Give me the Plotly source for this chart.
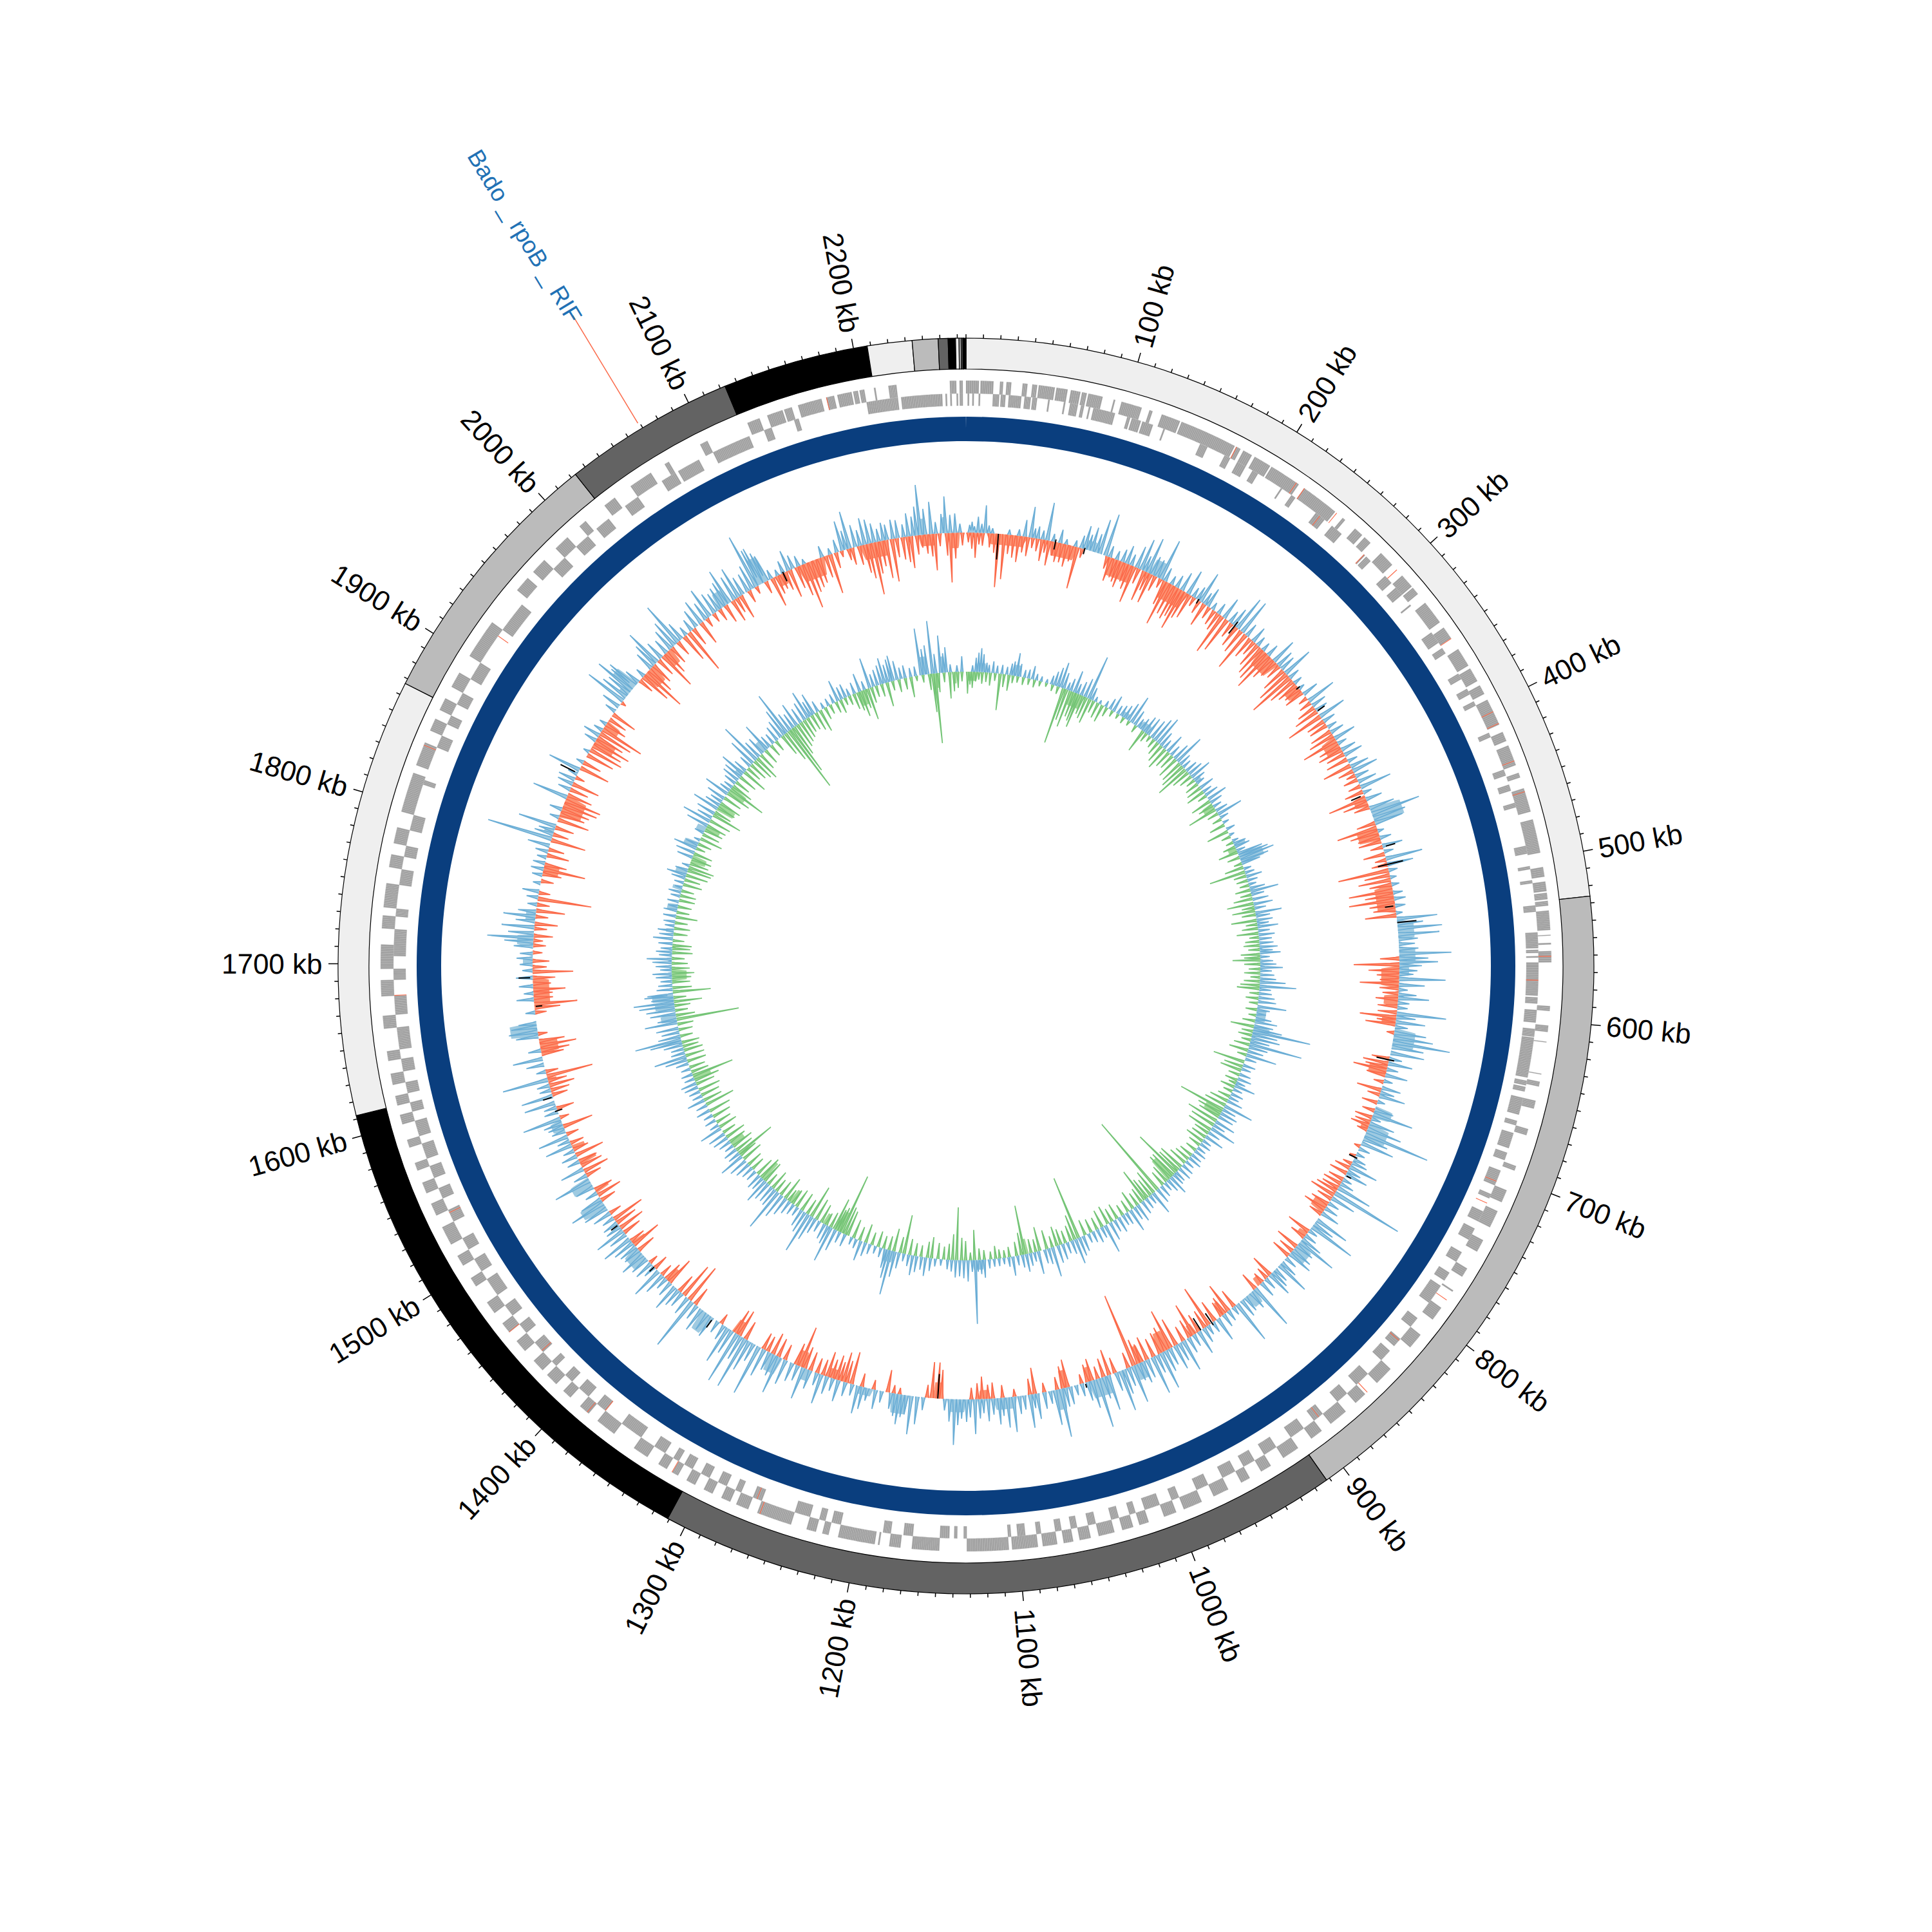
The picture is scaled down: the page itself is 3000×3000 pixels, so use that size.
import numpy as np
import plotly.graph_objects as go

TOTAL_KB = 2265
# Ideogram bands
band_start = [0, 526, 912, 1311, 1612, 1867, 2023, 2123, 2208, 2234, 2249, 2254.7, 2259, 2261, 2262.2, 2263.2, 2263.6]
band_end = [526, 912, 1311, 1612, 1867, 2023, 2123, 2208, 2234, 2249, 2254.7, 2259, 2261, 2262.2, 2263.2, 2263.6, 2265]
band_color = ["#efefef", "#bbbbbb", "#636363", "#000000", "#efefef", "#bbbbbb", "#636363", "#000000", "#efefef", "#bbbbbb",
              "#636363", "#000000", "#efefef", "#bbbbbb", "#636363", "#efefef", "#000000"]
tick_labels_kb = [100 * i for i in range(1, 23)]
marker_label = "Bado _ rpoB _ RIF"
marker_kb = 2069

# Gene blocks, kb start/end alternating
genes_forward = [0,8, 9,17, 21,23, 25,28, 35,38, 41,44, 45,55, 56,63, 65,71, 72,75, 76,85, 92,93, 97,107, 107,110, 115,117, 123,135, 136,152, 152,172, 173,176, 178,184, 186,197, 198,218, 222,226, 226,246, 252,254, 262,268, 270,275, 284,294, 303,312, 313,318, 325,340, 344,352, 360,372, 374,383, 386,392, 396,413, 418,424, 427,440, 445,448, 455,470, 475,480, 480,496, 505,511, 514,520, 521,525, 526,529, 532,544, 547,547.5, 552,553, 557,564, 591,594, 603,607, 613,613.5, 633,633.5, 638,641, 650,655, 668,672, 692,695, 708,716, 722,733, 742,750, 762,768, 778,779, 791,800, 812,822, 840,852, 862,870, 878,890, 897,905, 915,926, 935,942, 950,956, 965,975, 983,995, 1000,1008, 1018,1024, 1028,1035, 1040,1050, 1055,1062, 1066,1072, 1076,1085, 1088,1104, 1106,1132, 1149,1166, 1173,1180, 1186,1187, 1189,1212, 1218,1222, 1226,1232, 1242,1264, 1270,1278, 1282,1288, 1294,1300, 1306,1312, 1318,1322, 1326,1332, 1340,1350, 1365,1378, 1385,1392, 1400,1406, 1412,1420, 1424,1432, 1440,1448, 1455,1462, 1470,1478, 1490,1496, 1505,1512, 1520,1532, 1540,1548, 1555,1562, 1570,1575, 1585,1590, 1600,1606, 1612,1618, 1625,1632, 1640,1646, 1660,1668, 1680,1690, 1697,1712, 1722,1730, 1735,1750, 1760,1768, 1775,1785, 1795,1820, 1825,1840, 1848,1856, 1862,1870, 1878,1888, 1900,1925, 1950,1960, 1965,1975, 1985,1995, 2005,2010, 2025,2033, 2045,2060, 2070,2073, 2095,2100, 2127,2135, 2140,2150, 2151,2156, 2160,2170, 2170,2175, 2178,2183, 2185,2194, 2195,2198, 2199,2202, 2208,2209, 2217,2220, 2220,2222, 2255,2259, 2261,2263]
genes_reverse = [1,2, 4,5, 8,9, 17,21, 22,25, 27,35, 37,41, 42,45, 52,53, 62,63, 66,71, 73,75, 78,79, 81,95, 103,105, 106,112, 113,120, 127,128, 152,157, 169,173, 178,184, 189,193, 210,211, 218,221, 237,244, 250,258, 277,278, 279,283, 296,302, 306,312, 320,321, 342,350, 354,358, 373,377, 384,388, 393,396, 415,418, 440,444, 450,454, 462,465, 490,495, 503,505, 512,514, 528,532, 545,555, 556,558, 560,561, 564,585, 586,590, 594,602, 606,611, 611.5,633, 633,637, 639,642, 643,646, 650,661, 665,668, 673,683, 686,691, 698,708, 714,717, 726,733, 738,746, 755,762, 770,776, 780,793, 805,812, 822,828, 832,840, 852,862, 870,878, 890,897, 905,915, 926,935, 942,950, 956,965, 975,983, 995,1000, 1008,1018, 1024,1028, 1035,1040, 1050,1055, 1062,1066, 1072,1076, 1085,1088, 1095,1100, 1104,1106, 1132,1134, 1138,1140, 1143,1149, 1166,1172, 1180,1185, 1212,1218, 1222,1226, 1232,1242, 1264,1270, 1278,1282, 1288,1294, 1300,1306, 1312,1318, 1322,1326, 1332,1340, 1350,1362, 1362,1365, 1378,1385, 1392,1400, 1406,1412, 1420,1424, 1432,1440, 1448,1455, 1462,1470, 1478,1490, 1496,1505, 1512,1520, 1532,1540, 1548,1555, 1562,1570, 1575,1585, 1590,1600, 1606,1612, 1618,1625, 1632,1640, 1646,1660, 1668,1680, 1690,1697, 1705,1722, 1730,1735, 1750,1760, 1768,1775, 1785,1795, 1815,1818, 1840,1848, 1856,1862, 1870,1878, 1888,1900, 1925,1935, 1935,1945, 1975,1985, 1995,2005, 2012,2022, 2035,2045, 2063,2073, 2075,2090, 2100,2125, 2135,2140, 2155,2158, 2202,2208, 2208,2222, 2224,2250, 2252,2253, 2255,2256, 2259,2260, 2261,2263]
trna_forward = [173, 216, 222, 247, 298, 352, 404, 412, 437, 457, 560, 785, 860, 1262, 1322, 1386, 1455, 1838, 2178]
trna_reverse = [240, 277, 575, 705, 720, 823, 893, 1267, 1378, 1433, 1538, 1680, 1920]

# Outer track: peak kb, magnitude alternating
outer_up = [3,12,5,17,7,10,10,25,13,14,16,43,19,12,22,8,36,8,44,10,49,26,54,48,57,15,60,19,64,14,68,59,73,12,79,21,84,8,92,10,97,20,100,37,103,25,106,38,110,30,113,55,118,67,122,18,128,14,133,20,137,29,141,18,146,35,150,50,153,25,156,57,160,30,164,28,168,65,172,22,178,14,183,20,188,30,194,40,199,16,203,22,206,50,210,20,213,31,218,12,224,18,230,35,236,20,240,30,244,56,249,57,254,22,261,26,266,16,272,14,278,20,285,41,290,28,294,25,299,49,304,18,310,14,316,10,322,26,329,47,334,24,339,20,345,44,350,20,356,16,361,22,367,35,372,15,378,24,383,30,389,16,394,30,398,41,403,22,408,30,413,50,418,14,424,26,432,40,437,78,441,52,445,45,452,10,458,18,465,32,470,15,476,58,481,41,486,14,492,10,498,12,505,15,510,18,516,16,522,10,527,63,531,40,535,69,540,64,544,30,548,25,552,30,556,81,560,45,563,60,566,35,570,28,573,22,577,72,582,40,586,14,590,28,593,48,597,18,601,16,606,77,609,30,613,46,617,20,622,50,626,62,630,90,634,50,639,53,644,20,648,38,653,18,658,35,663,14,669,30,673,22,676,41,681,12,688,30,692,64,696,15,700,40,705,55,710,104,714,40,718,53,723,18,728,14,733,20,736,25,740,46,744,22,747,36,752,15,756,22,760,56,765,114,770,40,775,18,780,22,785,30,792,55,796,35,799,75,803,15,808,20,812,35,815,64,819,30,824,34,828,40,833,20,838,28,841,54,846,24,849,30,852,40,857,20,862,26,869,73,874,30,880,26,884,30,889,69,893,14,898,18,903,22,909,39,914,18,919,16,923,25,928,39,933,20,938,26,943,51,947,30,951,40,956,28,960,35,964,60,968,30,972,61,977,30,981,35,985,28,990,60,994,30,998,40,1001,65,1005,30,1012,56,1016,35,1021,78,1026,44,1030,30,1035,20,1040,16,1045,28,1049,30,1053,76,1058,55,1062,20,1067,26,1073,40,1076,22,1079,52,1084,22,1088,28,1093,55,1098,47,1102,28,1105,41,1110,25,1114,35,1118,22,1121,30,1125,54,1129,28,1132,35,1136,30,1139,40,1142,71,1146,35,1150,18,1168,20,1173,43,1178,60,1182,30,1185,35,1188,47,1191,35,1195,25,1203,18,1208,30,1215,20,1219,35,1223,44,1228,18,1234,22,1240,34,1245,20,1250,28,1255,47,1259,20,1265,30,1271,51,1276,25,1281,30,1287,40,1293,60,1297,35,1302,30,1307,45,1312,81,1317,30,1321,50,1325,84,1329,40,1333,84,1338,40,1342,60,1346,25,1352,20,1358,35,1363,30,1369,39,1374,25,1379,85,1384,30,1390,25,1394,30,1398,43,1403,25,1408,20,1412,35,1417,50,1422,20,1426,30,1431,30,1436,41,1441,28,1445,30,1449,35,1453,49,1458,30,1462,49,1466,25,1470,25,1475,20,1480,30,1485,40,1490,57,1494,35,1500,20,1506,30,1512,60,1517,22,1523,38,1530,20,1535,25,1540,18,1545,43,1549,20,1553,48,1558,22,1562,25,1565,30,1569,61,1575,22,1579,20,1583,49,1589,50,1594,18,1598,20,1603,72,1610,15,1616,28,1621,47,1628,20,1640,35,1644,45,1648,40,1651,28,1660,15,1671,27,1676,15,1682,22,1689,26,1695,16,1700,20,1705,25,1709,20,1715,30,1719,45,1722,72,1726,40,1731,51,1736,30,1740,50,1744,28,1750,15,1756,18,1761,26,1768,12,1775,16,1780,20,1785,19,1790,15,1795,20,1800,35,1806,103,1810,30,1813,25,1817,60,1825,15,1832,20,1843,56,1850,20,1855,25,1859,27,1864,16,1868,52,1875,12,1885,10,1896,20,1901,27,1906,15,1912,12,1925,18,1930,30,1936,67,1940,45,1944,40,1947,65,1950,45,1952,51,1956,25,1963,15,1972,30,1976,40,1979,59,1984,30,1990,25,1995,35,1999,45,2003,71,2007,30,2012,15,2018,20,2023,30,2028,40,2033,30,2037,49,2042,35,2046,30,2050,35,2054,40,2057,57,2062,40,2066,50,2070,30,2075,30,2079,40,2083,87,2086,60,2088,61,2091,50,2093,43,2097,15,2103,10,2108,20,2113,33,2117,22,2122,17,2127,8,2143,18,2150,10,2156,20,2161,47,2164,30,2167,59,2172,35,2176,25,2180,42,2184,38,2188,30,2192,20,2196,28,2199,24,2204,30,2208,28,2213,20,2217,36,2221,30,2224,45,2227,78,2231,40,2236,50,2240,18,2245,30,2248,57,2252,28,2256,30,2260,14]
outer_up_body = [98,110,15, 157,170,25, 432,447,48, 528,545,25, 550,566,25, 566,575,15, 618,635,33, 685,695,28, 700,715,33, 815,830,25, 870,880,22, 980,990,25, 1010,1030,28, 1050,1060,32, 1090,1110,18, 1132,1148,20, 1180,1195,30, 1210,1225,12, 1265,1272,18, 1290,1302,28, 1358,1368,32, 1430,1445,25, 1485,1495,38, 1505,1515,32, 1558,1568,18, 1640,1652,42, 1700,1705,15, 1715,1725,25, 1735,1745,15, 1810,1815,15, 1938,1945,15, 1945,1955,38, 2047,2057,25, 2085,2095,42, 2225,2232,25, 2245,2250,25]
outer_down = [2,15,5,25,8,39,11,18,14,20,20,22,24,30,27,83,32,70,36,30,40,35,44,41,48,25,52,30,56,16,60,20,64,34,67,20,70,39,74,22,77,31,81,30,85,35,89,25,94,66,98,15,120,20,123,38,127,30,130,35,133,42,137,30,140,40,144,59,148,25,153,49,156,30,159,48,163,25,168,15,172,40,175,71,179,50,183,55,186,48,189,66,192,45,196,40,200,15,205,22,210,38,215,20,220,25,224,30,228,66,233,57,238,25,243,35,248,40,253,64,258,35,262,25,266,40,270,50,274,55,278,66,282,40,286,30,291,25,296,40,300,55,304,75,308,45,312,35,316,28,320,32,326,15,331,20,336,30,340,40,345,59,350,30,354,30,360,35,364,42,369,58,374,35,378,40,382,30,387,35,393,46,398,25,402,15,406,23,412,20,417,30,423,61,427,40,431,25,445,30,449,64,453,45,457,35,461,36,466,20,472,34,477,18,481,25,486,80,490,40,494,51,498,35,503,69,507,45,511,71,515,40,519,35,524,49,560,30,565,71,570,48,574,35,578,30,581,61,585,30,589,25,594,35,600,31,605,30,609,57,612,30,615,47,622,12,644,28,648,40,651,35,654,53,658,30,664,16,671,39,675,20,682,25,689,20,695,28,699,25,702,30,706,17,721,10,730,10,737,15,741,25,746,29,752,25,756,30,760,28,763,35,767,41,771,25,776,30,781,37,786,22,804,38,810,25,820,37,825,25,830,31,852,36,856,20,861,18,869,29,892,30,898,48,902,30,905,25,912,35,918,67,922,30,928,30,933,53,937,30,943,25,950,45,955,64,960,40,965,35,971,30,977,38,982,30,985,40,989,117,994,25,1006,25,1011,41,1016,30,1021,20,1026,35,1030,28,1035,15,1047,44,1051,35,1056,20,1067,15,1075,41,1079,25,1092,12,1102,20,1110,25,1114,22,1119,35,1123,25,1128,18,1153,45,1156,56,1161,56,1165,20,1188,10,1193,13,1198,35,1210,15,1220,21,1229,51,1233,35,1236,47,1239,30,1242,39,1246,30,1250,40,1254,25,1259,24,1265,30,1270,35,1274,65,1278,35,1288,25,1294,30,1299,35,1304,25,1308,27,1325,30,1331,43,1335,40,1349,17,1376,30,1382,63,1388,57,1393,30,1404,45,1408,30,1413,20,1421,24,1427,15,1441,30,1447,48,1451,25,1460,30,1465,42,1470,35,1474,52,1480,20,1493,25,1498,40,1503,30,1517,25,1521,41,1526,35,1530,30,1536,46,1541,25,1547,22,1555,20,1562,48,1570,15,1578,28,1590,25,1594,30,1598,40,1602,30,1606,73,1610,20,1625,35,1628,45,1632,57,1636,40,1642,15,1660,18,1664,40,1667,67,1672,30,1676,30,1679,50,1684,28,1689,35,1694,63,1698,22,1703,26,1710,15,1716,20,1720,15,1724,30,1730,20,1734,36,1740,20,1745,45,1750,20,1755,84,1760,18,1770,20,1776,30,1780,66,1784,35,1792,35,1797,25,1805,55,1810,25,1816,30,1823,50,1828,40,1832,45,1836,55,1840,58,1845,40,1850,30,1855,44,1861,15,1870,48,1875,30,1882,45,1887,55,1891,50,1895,60,1899,45,1903,55,1907,70,1912,35,1917,30,1922,41,1934,8,1958,25,1962,50,1966,71,1970,45,1975,35,1981,30,1986,61,1990,40,1996,30,2003,25,2010,45,2015,72,2020,30,2028,38,2034,15,2041,15,2047,20,2053,30,2060,36,2064,25,2068,39,2076,20,2083,12,2092,20,2098,47,2102,30,2106,25,2110,30,2114,45,2120,35,2124,50,2128,73,2132,50,2136,45,2140,40,2146,35,2150,63,2155,25,2160,10,2166,18,2169,27,2175,30,2180,45,2183,55,2187,82,2190,50,2194,40,2198,60,2203,67,2207,30,2212,35,2216,40,2219,50,2224,30,2228,20,2232,30,2236,35,2239,57,2243,20,2249,35,2252,77,2256,40,2262,20]
outer_down_body = [17,52,17, 70,95,22, 120,146,28, 170,195,28, 270,290,28, 310,320,24, 365,380,24, 420,430,20, 448,460,33, 497,522,28, 566,585,28, 590,600,22, 608,616,22, 650,660,28, 700,706,12, 775,785,23, 805,810,14, 860,866,14, 900,905,23, 930,936,18, 955,965,32, 980,985,28, 1025,1030,23, 1047,1053,28, 1112,1122,14, 1153,1160,25, 1240,1252,15, 1270,1280,25, 1330,1338,22, 1403,1408,23, 1445,1450,23, 1500,1505,23, 1527,1532,28, 1540,1545,20, 1600,1605,14, 1625,1637,28, 1665,1690,25, 1775,1785,24, 1825,1845,33, 1890,1900,33, 1905,1915,24, 1962,1975,28, 1985,1995,24, 2100,2110,18, 2120,2145,28, 2175,2200,24, 2225,2240,18, 2250,2260,24]
outer_black_kb = [27, 75, 100, 204, 241, 315, 340, 420, 466, 481, 516, 530, 645, 731, 748, 915, 926, 1032, 1156, 1357, 1422, 1468, 1576, 1588, 1665, 1689, 1865, 2108]
outer_black_lo = [-40, -12, -8, -6, -15, -4, 2, -22, 5, -15, -16, 0, -20, -10, 2, -18, -22, 2, -38, 4, 0, 2, -8, 2, -12, 4, 5, -14]
outer_black_hi = [0, 4, 2, 2, 8, 3, 15, -6, 20, 25, -3, 30, 8, 4, 10, 4, 0, 8, 0, 18, 10, 14, 4, 16, -2, 22, 30, 2]

# Inner track: peak kb, magnitude alternating
inner_up = [8,10,12,22,15,30,18,37,21,28,25,15,28,12,33,18,38,12,44,14,50,12,55,18,58,22,62,36,66,20,72,12,77,14,82,21,87,10,93,8,100,6,106,14,110,22,114,30,118,40,122,25,127,12,131,20,136,35,140,16,145,22,150,30,155,70,159,20,164,8,170,6,178,10,184,18,189,26,195,14,200,18,205,22,210,30,215,46,220,25,225,15,230,20,235,28,240,30,246,32,251,40,256,47,261,25,266,16,272,31,278,18,284,28,289,49,294,20,299,15,305,20,310,25,315,35,320,20,325,14,332,24,338,15,343,22,349,32,354,20,360,14,366,20,371,41,376,14,383,10,392,14,400,8,408,10,412,20,416,24,421,14,425,40,428,48,431,56,435,45,438,30,445,12,450,15,455,25,460,16,465,12,470,24,474,44,478,20,484,25,490,30,495,18,501,41,505,22,510,25,514,18,518,32,523,18,528,25,533,20,538,22,543,28,547,20,550,32,555,15,560,20,564,25,568,35,572,18,577,22,582,25,586,40,591,57,595,18,600,20,605,25,610,28,616,45,620,20,625,15,631,25,635,35,640,30,644,45,647,91,651,40,655,45,659,30,663,83,667,30,672,25,677,48,682,18,690,20,695,15,702,18,708,22,713,15,717,33,722,15,728,20,733,16,738,25,745,47,750,22,755,28,760,25,767,33,772,20,777,42,783,20,789,31,795,15,800,18,806,15,811,20,817,18,822,22,828,15,834,20,840,22,846,18,850,20,855,32,860,22,865,15,871,20,877,25,884,38,889,15,895,18,901,22,908,29,913,22,919,37,925,20,930,18,936,25,942,20,948,30,955,46,960,18,966,22,972,18,978,15,985,25,990,30,995,40,1000,22,1006,18,1012,25,1018,28,1025,47,1030,25,1035,22,1043,36,1048,15,1053,20,1058,28,1063,20,1069,15,1075,30,1080,15,1086,10,1092,12,1098,12,1104,14,1110,28,1114,22,1118,18,1121,99,1125,18,1130,33,1135,28,1140,25,1145,27,1150,18,1155,15,1163,10,1170,12,1176,20,1182,29,1187,20,1193,25,1198,31,1203,18,1209,12,1215,25,1220,40,1225,70,1229,45,1232,30,1238,15,1245,12,1252,16,1258,22,1264,32,1270,15,1276,12,1285,20,1292,18,1298,35,1304,57,1308,30,1313,25,1320,18,1326,25,1331,40,1336,65,1341,35,1346,28,1352,15,1358,18,1364,22,1370,30,1376,40,1382,68,1387,30,1392,28,1398,30,1403,40,1408,22,1413,25,1420,18,1426,20,1432,25,1438,30,1445,40,1450,20,1456,22,1462,15,1468,20,1474,25,1480,28,1488,36,1493,15,1500,18,1507,15,1514,22,1521,18,1528,28,1534,16,1540,18,1546,22,1551,25,1557,16,1563,18,1570,15,1577,20,1582,35,1586,51,1591,22,1596,20,1601,30,1605,50,1608,73,1612,35,1617,28,1622,35,1629,51,1633,30,1640,40,1645,45,1650,55,1654,63,1658,35,1662,45,1664,40,1670,25,1675,22,1680,18,1685,25,1689,30,1694,18,1698,25,1703,30,1707,39,1712,20,1716,25,1720,18,1726,22,1732,31,1737,22,1742,25,1748,15,1753,18,1760,20,1767,21,1772,15,1778,18,1785,15,1790,20,1796,12,1802,15,1808,22,1812,31,1818,20,1824,12,1835,25,1841,30,1847,37,1852,20,1858,10,1868,15,1878,35,1884,46,1889,25,1895,30,1902,42,1907,25,1912,20,1917,30,1924,40,1929,18,1934,15,1940,20,1945,28,1950,30,1955,41,1960,22,1968,20,1973,45,1979,67,1984,30,1990,30,1997,47,2002,20,2008,18,2014,25,2020,30,2025,45,2029,71,2034,30,2039,25,2044,38,2050,25,2056,30,2061,45,2065,25,2069,35,2075,18,2083,10,2090,12,2097,15,2103,34,2108,20,2113,22,2118,12,2125,18,2132,29,2138,14,2145,48,2150,20,2155,25,2160,30,2164,40,2168,28,2172,35,2175,40,2180,30,2185,18,2190,20,2197,14,2203,15,2210,73,2214,40,2218,45,2224,82,2228,30,2234,58,2238,30,2241,39,2246,12,2254,10,2260,24]
inner_up_body = [12,25,14, 58,66,17, 200,210,9, 225,240,13, 320,326,10, 410,416,18, 425,438,38, 618,635,15, 640,650,25, 1110,1125,15, 1220,1235,18, 1630,1640,24, 1645,1655,30, 1655,1665,33, 1739,1745,12, 1765,1775,16, 1792,1798,15, 1810,1820,18, 1845,1855,22, 1868,1876,14, 1950,1958,12, 1990,2000,18, 2210,2218,28, 2234,2240,25]
inner_down = [2,34,5,20,8,25,12,15,16,12,20,18,25,15,30,20,36,12,42,57,47,20,53,25,58,12,64,10,71,12,78,10,85,12,92,8,100,6,108,10,115,12,122,89,126,50,131,59,136,40,140,45,143,54,148,30,152,35,157,40,162,20,168,25,174,28,180,15,188,10,196,8,204,10,212,8,222,12,233,37,238,15,244,10,250,15,256,22,262,30,268,37,274,28,280,25,286,35,293,36,298,42,303,54,308,30,314,22,320,15,326,22,332,25,338,30,344,15,352,33,358,25,364,47,370,18,378,15,386,25,395,35,402,15,410,12,416,20,423,31,430,20,438,13,443,30,449,57,454,20,460,18,466,15,472,24,478,18,483,30,489,42,494,20,498,36,503,22,510,40,515,18,520,25,526,34,531,15,536,22,541,25,546,18,552,30,556,25,559,43,564,25,570,18,575,25,580,15,585,25,590,30,594,35,600,15,606,20,612,14,620,18,627,12,634,20,641,37,647,18,652,22,658,15,664,25,671,30,677,15,686,50,692,30,697,34,703,18,710,20,714,12,719,23,725,15,732,20,738,30,744,35,750,74,755,40,760,35,766,50,772,40,779,40,784,25,790,25,796,30,802,20,810,18,818,22,824,25,830,30,837,42,842,40,846,78,851,45,856,45,862,30,868,25,877,133,883,40,888,30,893,35,897,54,902,25,908,22,915,30,922,20,930,18,938,25,945,22,951,30,959,28,966,20,974,22,982,25,991,100,996,40,1001,25,1008,20,1014,25,1019,31,1025,18,1032,30,1041,38,1046,20,1052,22,1060,77,1064,35,1070,22,1079,16,1085,12,1091,14,1096,20,1102,12,1110,15,1116,18,1122,47,1127,12,1133,30,1138,35,1144,82,1149,40,1154,25,1160,20,1167,25,1175,33,1180,25,1188,18,1195,20,1202,25,1209,61,1214,25,1222,36,1228,22,1235,20,1242,25,1250,20,1258,30,1266,22,1274,30,1282,40,1286,45,1290,96,1294,40,1297,35,1300,51,1305,25,1311,20,1318,30,1325,35,1332,52,1338,25,1346,30,1354,30,1360,25,1366,20,1371,37,1378,25,1385,22,1391,31,1398,20,1404,35,1410,38,1416,30,1425,22,1432,25,1441,34,1447,30,1450,64,1455,30,1461,35,1468,28,1475,33,1482,22,1490,30,1497,25,1505,30,1513,35,1522,47,1528,30,1535,30,1542,35,1550,30,1555,40,1561,66,1566,28,1572,25,1580,30,1587,30,1594,30,1599,25,1604,28,1612,20,1620,22,1627,25,1633,98,1638,30,1644,20,1650,25,1655,44,1660,20,1667,59,1672,30,1679,28,1685,30,1690,35,1696,28,1702,25,1708,20,1715,32,1720,28,1724,30,1730,18,1738,22,1745,25,1752,20,1759,34,1765,20,1772,22,1780,25,1786,25,1792,20,1800,30,1806,25,1812,35,1818,38,1822,41,1827,30,1833,32,1840,30,1847,15,1853,22,1860,36,1866,28,1872,30,1878,32,1885,35,1893,48,1897,28,1904,30,1910,35,1918,30,1925,40,1931,61,1936,35,1942,25,1950,30,1958,41,1964,25,1970,30,1976,35,1981,41,1987,28,1995,25,2004,20,2012,18,2022,35,2027,50,2032,106,2036,79,2040,50,2045,40,2050,35,2055,31,2060,25,2066,25,2072,30,2078,36,2085,20,2092,15,2100,18,2106,22,2112,12,2118,15,2124,25,2129,30,2133,41,2138,30,2142,50,2147,25,2153,18,2160,20,2167,38,2174,15,2182,20,2190,18,2197,32,2204,8,2212,12,2220,25,2224,60,2227,109,2231,30,2238,15,2245,41,2250,30,2255,25,2260,15]
inner_down_body = [0,15,14, 130,150,22, 355,365,18, 415,425,13, 750,760,28, 849,860,38, 1055,1062,24, 1290,1297,33, 1310,1316,18, 1358,1365,23, 1405,1412,33, 1460,1470,23, 1555,1562,28, 1680,1695,23, 1828,1838,23, 1870,1880,23, 1900,1910,28, 1925,1935,28, 2128,2140,23, 2225,2232,23, 2248,2254,18]

R_OUT, R_IN = 673, 457
HALF = 1.25
GENE_KB = 1.1
PLOT_PX = 2984.0  # the page adds an 8 px body margin; centre stays at 1500
cx = 0.5 * PLOT_PX / 3000
cy = 1 - cx
grid = np.arange(0, TOTAL_KB + 0.25, 0.5)


def deg(k):
    return np.asarray(k, dtype=float) * 360.0 / TOTAL_KB


def peak_env(peaks):
    y = np.zeros_like(grid)
    for k, v in zip(peaks[::2], peaks[1::2]):
        y = np.maximum(y, v * (1 - np.abs(grid - k) / HALF))
    return y


def body_env(body):
    y = np.zeros_like(grid)
    for s, e, lv in zip(body[::3], body[1::3], body[2::3]):
        t = max((e - s) * 0.12, 1.0)
        ramp = np.minimum(np.clip((grid - s) / t, 0, 1), np.clip((e - grid) / t, 0, 1))
        y = np.maximum(y, lv * ramp)
    return y


def runs_of(y):
    on = y > 0
    on = on | np.r_[on[1:], False] | np.r_[False, on[:-1]]
    idx = np.where(on)[0]
    return np.split(idx, np.where(np.diff(idx) > 1)[0] + 1)


def wiggle(fig, peaks, body, base, sign, fill, line):
    py = peak_env(peaks)
    fy = np.maximum(py, body_env(body))
    tf, rf, tl, rl = [], [], [], []
    for run in runs_of(fy):
        th = deg(grid[run])
        tf += list(th) + list(th[::-1]) + [None]
        rf += list(base + sign * fy[run]) + [base] * len(run) + [None]
    for run in runs_of(py):
        tl += list(deg(grid[run])) + [None]
        rl += list(base + sign * py[run]) + [None]
    fig.add_trace(go.Scatterpolar(theta=tf, r=rf, mode="none", fill="toself", fillcolor=fill, hoverinfo="skip"))
    fig.add_trace(go.Scatterpolar(theta=tl, r=rl, mode="lines", line=dict(color=line, width=1.7), hoverinfo="skip"))


def bars(fig, starts, ends, r0, r1, color, line=None, lw=0.0):
    s, e = np.asarray(starts, float), np.asarray(ends, float)
    fig.add_trace(go.Barpolar(theta=deg((s + e) / 2), width=deg(e - s), base=[r0] * len(s), r=[r1 - r0] * len(s),
                              marker=dict(color=color, line=dict(color=line or "rgba(0,0,0,0)", width=lw)),
                              hoverinfo="skip"))


def gene_track(fig, blocks, r0, r1):
    s, e = [], []
    for a, b in zip(blocks[::2], blocks[1::2]):
        n = max(int(round((b - a) / GENE_KB)), 1)
        edges = np.linspace(a, b, n + 1)
        s += list(edges[:-1])
        e += list(edges[1:])
    bars(fig, s, e, r0, r1, "#a0a0a0", "#bcbcbc", 0.3)


fig = go.Figure()
bars(fig, band_start, band_end, 927, 975, band_color, "#000000", 1.2)
gene_track(fig, genes_forward, 889, 909)
gene_track(fig, genes_reverse, 870, 889)
bars(fig, trna_forward, [k + 0.45 for k in trna_forward], 889, 909, "#fb6a4a")
bars(fig, trna_reverse, [k + 0.45 for k in trna_reverse], 870, 889, "#fb6a4a")

ring_theta = np.arange(0, 361, 1.0)
fig.add_trace(go.Scatterpolar(theta=ring_theta, r=[834] * len(ring_theta), mode="lines",
                              line=dict(color="#0a3e7e", width=38), hoverinfo="skip"))

wiggle(fig, outer_down, outer_down_body, R_OUT, -1, "#fc9272", "#fb6a4a")
wiggle(fig, outer_up, outer_up_body, R_OUT, 1, "#9ecae1", "#6baed6")
wiggle(fig, inner_down, inner_down_body, R_IN, -1, "#a1d99b", "#74c476")
wiggle(fig, inner_up, inner_up_body, R_IN, 1, "#9ecae1", "#6baed6")

bt, br = [], []
for k, lo, hi in zip(outer_black_kb, outer_black_lo, outer_black_hi):
    bt += [deg(k), deg(k), None]
    br += [R_OUT + lo, R_OUT + hi, None]
fig.add_trace(go.Scatterpolar(theta=bt, r=br, mode="lines", line=dict(color="#000000", width=2), hoverinfo="skip"))

tt, tr = [], []
for k in range(0, TOTAL_KB, 10):
    tt += [deg(k), deg(k), None]
    tr += [975, 990 if k % 100 == 0 and k > 0 else 981, None]
fig.add_trace(go.Scatterpolar(theta=tt, r=tr, mode="lines", line=dict(color="#000000", width=1.5), hoverinfo="skip"))

fig.add_trace(go.Scatterpolar(theta=[deg(marker_kb)] * 2, r=[985, 1180], mode="lines",
                              line=dict(color="#fb6a4a", width=1.5), hoverinfo="skip"))

annotations = []
for k in tick_labels_kb:
    a = float(deg(k))
    ang = a - 90 if a < 180 else a - 270
    rad = np.radians(a)
    lab_r = 1065 if k < 1000 else 1078
    annotations.append(dict(x=cx + lab_r * np.sin(rad) / 3000, y=cy + lab_r * np.cos(rad) / 3000, xref="paper", yref="paper",
                            text=f"{k} kb", showarrow=False, textangle=ang, xanchor="center", yanchor="middle",
                            font=dict(family="Liberation Sans", size=44, color="#000000")))
a = float(deg(marker_kb))
rad = np.radians(a)
annotations.append(dict(x=cx + 1325 * np.sin(rad) / 3000, y=cy + 1325 * np.cos(rad) / 3000, xref="paper", yref="paper",
                        text=marker_label, showarrow=False, textangle=a - 270, xanchor="center", yanchor="middle",
                        font=dict(family="Liberation Sans", size=37, color="#2171b5")))

fig.update_layout(
    width=3000, height=3000, margin=dict(l=0, r=0, t=0, b=0), showlegend=False,
    paper_bgcolor="white", plot_bgcolor="white", annotations=annotations,
    polar=dict(domain=dict(x=[0, PLOT_PX / 3000], y=[1 - PLOT_PX / 3000, 1]), bgcolor="white", bargap=0,
               radialaxis=dict(range=[0, PLOT_PX / 2], visible=False),
               angularaxis=dict(visible=False, direction="clockwise", rotation=90, thetaunit="degrees")),
)
fig.write_html("out.html")
